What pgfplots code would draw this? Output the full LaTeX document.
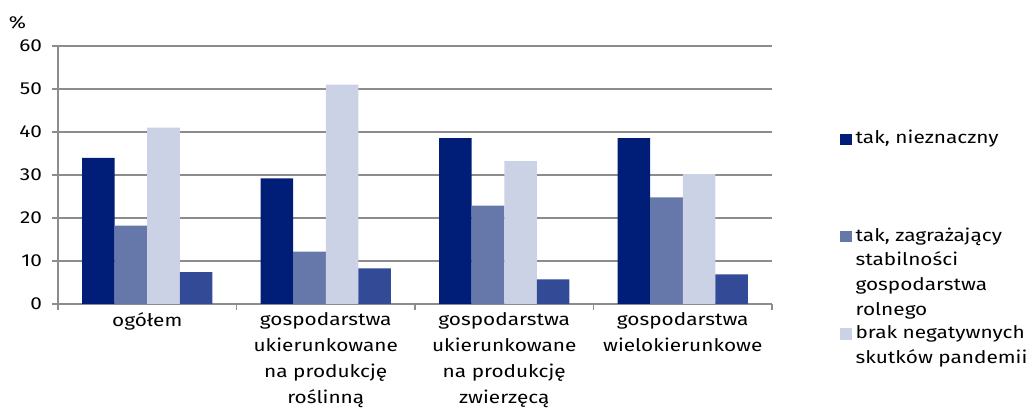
\documentclass[border=0pt]{standalone}
\usepackage{pgfplots}
\pgfplotsset{compat=1.18}
\usepackage{fontspec}
\setmainfont{Fira Sans}[FakeStretch=1.2]
\definecolor{c1}{RGB}{0,30,120}
\definecolor{c2}{RGB}{102,119,170}
\definecolor{c3}{RGB}{204,210,230}
\definecolor{c4}{RGB}{51,74,150}
\definecolor{gridc}{RGB}{140,140,140}
\newcommand{\fs}{\fontsize{13}{18}\selectfont}
\newcommand{\fsl}{\fontsize{13}{18.6}\selectfont}
\pgfplotsset{sq/.style={legend image code/.code={\fill[#1] (0pt,0pt) rectangle (9pt,8.6pt);}}}
\begin{document}
\fs
\begin{tikzpicture}
\path[use as bounding box] (-43.5pt,-78.75pt) rectangle (733.5pt,228pt);
\begin{axis}[
  at={(0,0)}, anchor=south west,
  scale only axis, width=535.5pt, height=193.5pt,
  xmin=-0.5, xmax=3.5, ymin=0, ymax=60,
  ybar=0pt, bar width=24.4pt,
  axis x line*=bottom, axis y line*=left,
  axis line style={-, draw=gridc, line width=1pt},
  ytick={0,10,...,60}, ymajorgrids,
  grid style={draw=gridc, line width=1pt},
  xtick={-0.5,0.5,1.5,2.5,3.5}, xticklabels={},
  extra x ticks={0,1,2,3},
  extra x tick style={major tick length=0pt},
  extra x tick labels={ogółem,
    gospodarstwa\\ukierunkowane\\na produkcję\\roślinną,
    gospodarstwa\\ukierunkowane\\na produkcję\\zwierzęcą,
    gospodarstwa\\wielokierunkowe},
  tick align=outside, major tick length=4.5pt,
  tick style={draw=gridc, line width=1pt},
  /pgf/number format/assume math mode=true,
  ticklabel style={font=\fs},
  yticklabel style={xshift=-3pt},
  xticklabel style={align=center, yshift=-2pt, font=\fontsize{13}{19.5}\selectfont},
  legend style={draw=none, fill=none, at={(1.0952,0.661)}, anchor=north west,
    nodes={inner sep=0pt}, column sep=2.5pt, row sep=63.4pt, inner sep=0pt},
  legend cell align=left,
]
\addplot[fill=c1, draw=none, sq] coordinates {(0,34.0) (1,29.2) (2,38.6) (3,38.6)};
\addlegendentry{\smash{tak, nieznaczny}}
\addplot[fill=c2, draw=none, sq] coordinates {(0,18.2) (1,12.2) (2,22.9) (3,24.8)};
\addlegendentry{\smash{\parbox[t]{180pt}{\raggedright\fsl tak, zagrażający\\stabilności\\gospodarstwa\\rolnego}}}
\addplot[fill=c3, draw=none, sq] coordinates {(0,41.0) (1,51.0) (2,33.2) (3,30.2)};
\addlegendentry{\smash{\parbox[t]{180pt}{\raggedright\fsl brak negatywnych\\skutków pandemii}}}
\addplot[fill=c4, draw=none] coordinates {(0,7.4) (1,8.3) (2,5.7) (3,6.9)};
\end{axis}
\node[font=\fs] at (-30.4pt,210.75pt) {\%};
\end{tikzpicture}
\end{document}
